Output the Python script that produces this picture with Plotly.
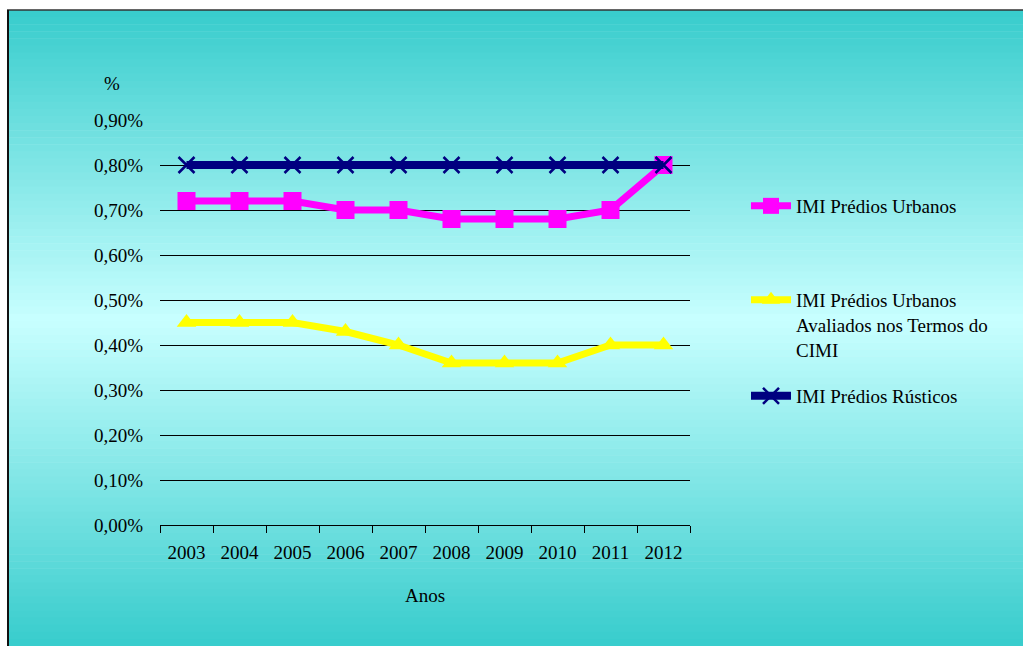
import plotly.graph_objects as go

W, H = 1023, 646

years = ["2003", "2004", "2005", "2006", "2007", "2008", "2009", "2010", "2011", "2012"]
urbanos = [0.72, 0.72, 0.72, 0.70, 0.70, 0.68, 0.68, 0.68, 0.70, 0.80]
cimi = [0.45, 0.45, 0.45, 0.43, 0.40, 0.36, 0.36, 0.36, 0.40, 0.40]
rusticos = [0.80, 0.80, 0.80, 0.80, 0.80, 0.80, 0.80, 0.80, 0.80, 0.80]
y_ticks = [0.0, 0.1, 0.2, 0.3, 0.4, 0.5, 0.6, 0.7, 0.8, 0.9]
y_ticktext = ["0,00%", "0,10%", "0,20%", "0,30%", "0,40%", "0,50%", "0,60%", "0,70%", "0,80%", "0,90%"]

FONT = "Liberation Serif, Times New Roman, DejaVu Serif, serif"
FS = 19


def px_x(p):
    return p / W


def px_y(p):
    return 1 - p / H


xs = list(range(len(years)))

fig = go.Figure()
fig.add_trace(go.Scatter(
    x=xs, y=urbanos, name="IMI Prédios Urbanos", mode="lines+markers",
    line=dict(color="#FF00FF", width=7),
    marker=dict(symbol="square", size=18, color="#FF00FF"),
    legend="legend",
))
fig.add_trace(go.Scatter(
    x=xs, y=cimi, name="IMI Prédios Urbanos<br>Avaliados nos Termos do<br>CIMI", mode="lines+markers",
    line=dict(color="#FFFF00", width=7),
    marker=dict(symbol="triangle-up", size=17, color="#FFFF00"),
    legend="legend2",
))
fig.add_trace(go.Scatter(
    x=xs, y=rusticos, name="IMI Prédios Rústicos", mode="lines+markers",
    line=dict(color="#000080", width=8),
    marker=dict(symbol="x-thin", size=16, color="#000080", line=dict(color="#000080", width=2.5)),
    legend="legend3",
))

# background gradient strips
shapes = []
top, mid, bot = 10, 320, 646
c_edge = (55, 204, 204)
c_mid = (200, 255, 255)
n = 90
for i in range(n):
    y0 = top + (bot - top) * i / n
    y1 = top + (bot - top) * (i + 1) / n
    yc = (y0 + y1) / 2
    if yc <= mid:
        t = (yc - top) / (mid - top)
    else:
        t = (bot - yc) / (bot - mid)
    c = tuple(int(round(c_edge[k] + (c_mid[k] - c_edge[k]) * t)) for k in range(3))
    shapes.append(dict(type="rect", xref="paper", yref="paper", layer="below",
                       x0=px_x(7), x1=1, y0=px_y(y1 + 0.6), y1=px_y(y0),
                       fillcolor="rgb(%d,%d,%d)" % c, line=dict(width=0)))
# border
shapes.append(dict(type="line", xref="paper", yref="paper", layer="below",
                   x0=px_x(7), x1=1, y0=px_y(10), y1=px_y(10), line=dict(color="#333333", width=1.5)))
shapes.append(dict(type="line", xref="paper", yref="paper", layer="below",
                   x0=px_x(8), x1=px_x(8), y0=px_y(10), y1=0, line=dict(color="#111111", width=2)))

legend_common = dict(bgcolor="rgba(0,0,0,0)", font=dict(family=FONT, size=FS, color="black"),
                     xanchor="left", yanchor="top", itemwidth=40)

fig.update_layout(
    width=W, height=H, autosize=False,
    margin=dict(l=0, r=0, t=0, b=0, autoexpand=False),
    paper_bgcolor="white", plot_bgcolor="rgba(0,0,0,0)",
    shapes=shapes,
    font=dict(family=FONT, size=FS, color="black"),
    xaxis=dict(
        domain=[px_x(160), px_x(690)], range=[-0.5, 9.5], automargin=False,
        tickmode="array", tickvals=xs, ticktext=years, ticks="",
        showgrid=False, zeroline=False, showline=True, linecolor="black", linewidth=1,
        ticklabelstandoff=10,
        minor=dict(tick0=-0.5, dtick=1, ticks="outside", ticklen=7, tickcolor="black", showgrid=False),
        tickfont=dict(family=FONT, size=FS),
        title=dict(text="Anos", font=dict(family=FONT, size=FS), standoff=26),
    ),
    yaxis=dict(
        domain=[px_y(525), px_y(120)], range=[0, 0.9], automargin=False,
        tickmode="array", tickvals=y_ticks, ticktext=y_ticktext, ticks="",
        showgrid=True, gridcolor="black", gridwidth=1, zeroline=False, showline=False,
        ticklabelstandoff=16, tickfont=dict(family=FONT, size=FS),
    ),
    legend=dict(x=px_x(746), y=px_y(187), **legend_common),
    legend2=dict(x=px_x(746), y=px_y(281), valign="top", **legend_common),
    legend3=dict(x=px_x(746), y=px_y(377), **legend_common),
    annotations=[dict(text="%", xref="paper", yref="paper", x=px_x(112), y=px_y(83),
                      showarrow=False, font=dict(family=FONT, size=FS), xanchor="center", yanchor="middle")],
    showlegend=True,
)

fig.write_html("out.html", config={"displayModeBar": False},
               post_script="document.body.style.margin='0px';document.body.style.overflow='hidden';")
